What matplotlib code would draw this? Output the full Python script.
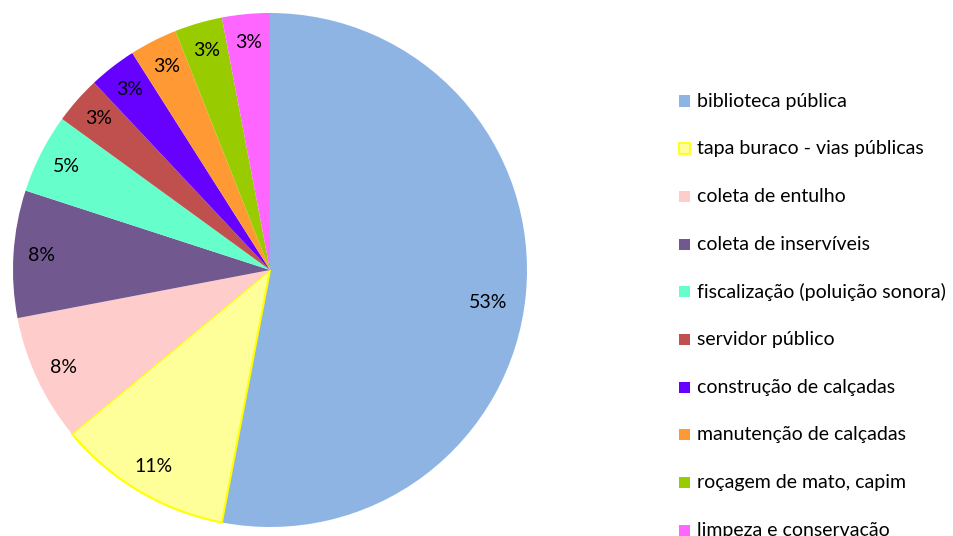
import matplotlib.pyplot as plt
from matplotlib.patches import Rectangle

# === Data ===
categories = [
    "biblioteca pública",
    "tapa buraco - vias públicas",
    "coleta de entulho",
    "coleta de inservíveis",
    "fiscalização (poluição sonora)",
    "servidor público",
    "construção de calçadas",
    "manutenção de calçadas",
    "roçagem de mato, capim",
    "limpeza e conservação",
]
shares = [53, 11, 8, 8, 5, 3, 3, 3, 3, 3]
colors = [
    "#8EB4E3", "#FFFF99", "#FFCCCC", "#71588F", "#66FFCC",
    "#C0504D", "#6600FF", "#FF9933", "#99CC00", "#FF66FF",
]

plt.rcParams["font.family"] = ["Lato", "DejaVu Sans"]
FS = 14

W, H = 954, 536
fig = plt.figure(figsize=(W / 100, H / 100), dpi=100)

# pie area: centre (270, 270) px, radius 257 px
cx, cy, r = 270, 270, 257
ax = fig.add_axes([(cx - r) / W, (H - cy - r) / H, 2 * r / W, 2 * r / H])
wedges, texts, autotexts = ax.pie(
    shares, colors=colors, startangle=90, counterclock=False,
    autopct="%1.0f%%", pctdistance=0.89,
    wedgeprops=dict(linewidth=0),
    textprops=dict(fontsize=FS, color="black"),
)
# yellow outline on the road-repair slice
wedges[1].set_edgecolor("#FFFF00")
wedges[1].set_linewidth(1.5)
autotexts[0].set_position((0.85, -0.125))
ax.set_xlim(-1, 1)
ax.set_ylim(-1, 1)
ax.set_aspect("auto")

# legend, drawn as a column of squares and labels
x_box, y0, pitch, box = 679, 101, 47.7, 11
for i, (name, col) in enumerate(zip(categories, colors)):
    yc = y0 + i * pitch
    ec = "#FFFF00" if i == 1 else col
    fig.patches.append(Rectangle(
        ((x_box) / W, (H - yc - box / 2) / H), box / W, box / H,
        transform=fig.transFigure, facecolor=col, edgecolor=ec,
        linewidth=1.2 if i == 1 else 0, figure=fig))
    fig.text(697 / W, (H - yc) / H, name, fontsize=FS, va="center",
             ha="left", color="black")

fig.savefig("out.png", dpi=100)
